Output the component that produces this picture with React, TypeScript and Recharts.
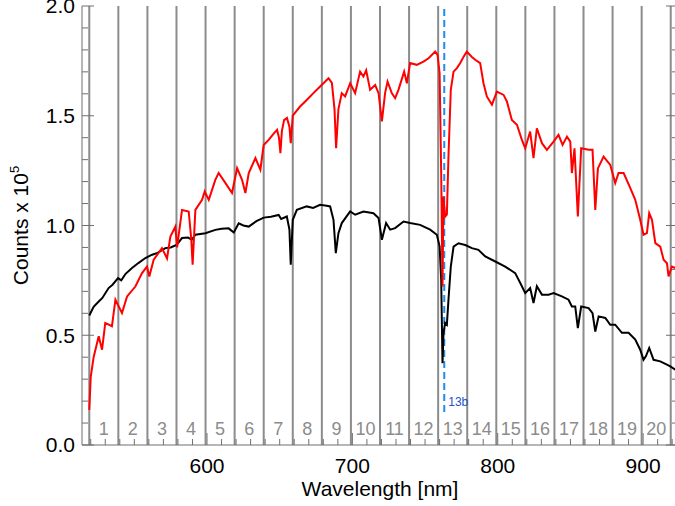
import React from "react";
import { ComposedChart, Line, XAxis, YAxis, ReferenceLine } from "recharts";

// Spectrum with 20 wavelength bands (520-920 nm), two exposures.

const FONT = '"Liberation Sans", Arial, Helvetica, sans-serif';
const AXIS = "#6f6f6f";
const BAND = "#8c8c8c";

const redNm = [
  519.0, 520.0, 522.0, 525.5, 527.8, 530.0, 534.6, 537.0, 541.5, 545.0, 550.7, 555.3, 558.7, 560.3,
  563.3, 569.0, 572.5, 574.8, 578.2, 579.4, 582.8, 587.4, 589.2, 590.1, 592.0, 596.6, 598.4, 601.2,
  605.7, 608.0, 612.6, 617.2, 620.7, 624.1, 626.4, 628.7, 633.3, 636.7, 639.0, 642.4, 646.0, 648.2,
  649.5, 650.5, 651.5, 653.0, 655.0, 656.7, 657.6, 659.0, 664.0, 668.6, 673.2, 677.8, 683.6, 685.9,
  687.7, 688.8, 690.4, 692.7, 695.0, 698.5, 701.9, 705.3, 707.6, 709.5, 712.2, 715.7, 718.0, 720.3,
  722.5, 724.2, 727.1, 729.4, 731.7, 735.6, 737.5, 739.7, 744.3, 748.9, 752.4, 757.0, 758.6, 760.0,
  761.1, 762.0, 762.7, 763.8, 765.0, 766.1, 767.7, 769.6, 771.9, 774.2, 776.4, 778.7, 782.2, 784.5,
  787.9, 790.2, 792.5, 796.0, 799.4, 804.0, 806.3, 809.7, 813.2, 816.6, 818.9, 822.3, 824.6, 826.9,
  830.4, 833.8, 838.4, 841.8, 844.6, 847.6, 849.9, 851.0, 852.8, 855.1, 857.4, 862.5, 865.2, 867.1,
  868.9, 872.8, 877.4, 880.8, 883.1, 886.6, 891.2, 894.6, 898.0, 900.3, 902.6, 904.2, 906.1, 908.4,
  911.8, 914.1, 916.4, 917.5, 919.8, 922.1, 923.5,
];
const redCounts = [
  0.16, 0.31, 0.40, 0.495, 0.434, 0.556, 0.541, 0.662, 0.601, 0.677, 0.722, 0.783, 0.813, 0.768,
  0.844, 0.897, 0.85, 0.95, 0.995, 0.9, 1.071, 1.064, 0.935, 0.821, 1.071, 1.117, 1.155, 1.117,
  1.208, 1.239, 1.194, 1.148, 1.261, 1.208, 1.148, 1.239, 1.307, 1.254, 1.367, 1.39, 1.42, 1.436,
  1.40, 1.33, 1.43, 1.48, 1.49, 1.45, 1.375, 1.50, 1.542, 1.572, 1.603, 1.633, 1.671, 1.65,
  1.53, 1.352, 1.53, 1.603, 1.588, 1.648, 1.603, 1.701, 1.679, 1.707, 1.618, 1.64, 1.603, 1.474,
  1.603, 1.656, 1.603, 1.58, 1.618, 1.701, 1.648, 1.74, 1.732, 1.747, 1.762, 1.792, 1.777, 1.694,
  1.239, 0.722, 1.132, 1.041, 1.05, 1.314, 1.618, 1.701, 1.717, 1.74, 1.768, 1.792, 1.768, 1.755,
  1.74, 1.648, 1.588, 1.55, 1.61, 1.595, 1.565, 1.481, 1.459, 1.39, 1.352, 1.428, 1.307, 1.443,
  1.375, 1.345, 1.382, 1.413, 1.367, 1.405, 1.382, 1.239, 1.352, 1.041, 1.352, 1.345, 1.345, 1.071,
  1.26, 1.314, 1.276, 1.193, 1.239, 1.239, 1.17, 1.117, 1.026, 0.958, 0.965, 1.056, 1.026, 0.92,
  0.904, 0.844, 0.828, 0.768, 0.813, 0.806, 0.81,
];

const blackNm = [
  519.0, 522.0, 525.5, 528.0, 532.3, 535.0, 538.8, 541.0, 544.0, 548.4, 553.0, 557.6, 562.2, 566.0,
  571.3, 575.0, 579.0, 582.8, 587.0, 589.5, 592.0, 598.9, 605.7, 610.0, 614.9, 618.4, 621.8, 625.0,
  628.7, 634.0, 639.0, 644.0, 649.3, 651.0, 654.9, 656.7, 657.6, 659.0, 661.8, 668.6, 673.0, 677.8,
  682.3, 684.7, 687.0, 688.6, 690.4, 692.7, 698.5, 701.9, 707.6, 714.5, 718.0, 720.3, 723.2, 726.0,
  729.4, 735.2, 739.7, 746.6, 753.5, 758.1, 760.0, 761.1, 762.0, 762.7, 763.8, 765.0, 766.1, 767.7,
  769.6, 773.0, 777.6, 782.2, 786.7, 791.4, 798.3, 805.1, 812.0, 815.5, 818.9, 822.3, 824.6, 826.9,
  830.4, 835.0, 838.4, 844.1, 848.7, 851.0, 853.3, 855.1, 857.4, 862.5, 865.2, 867.1, 869.4, 874.0,
  877.4, 880.8, 885.4, 890.0, 894.6, 898.0, 900.3, 901.9, 904.2, 907.2, 911.8, 916.4, 918.7, 922.1,
  923.5,
];
const blackCounts = [
  0.59, 0.63, 0.654, 0.67, 0.715, 0.73, 0.76, 0.75, 0.78, 0.806, 0.83, 0.852, 0.867, 0.875,
  0.897, 0.9, 0.912, 0.943, 0.945, 0.935, 0.958, 0.965, 0.98, 0.985, 0.987, 0.968, 1.01, 1.0,
  0.995, 1.02, 1.036, 1.04, 1.048, 1.03, 1.041, 0.981, 0.821, 1.026, 1.071, 1.087, 1.08, 1.094,
  1.09, 1.087, 1.026, 0.874, 0.965, 1.011, 1.064, 1.049, 1.064, 1.056, 1.034, 0.935, 1.011, 0.981,
  0.988, 1.018, 1.011, 1.003, 0.981, 0.958, 0.905, 0.754, 0.373, 0.51, 0.556, 0.548, 0.662, 0.813,
  0.904, 0.919, 0.911, 0.897, 0.889, 0.859, 0.836, 0.813, 0.783, 0.738, 0.692, 0.715, 0.647, 0.723,
  0.685, 0.685, 0.692, 0.677, 0.662, 0.631, 0.631, 0.533, 0.631, 0.624, 0.601, 0.517, 0.586, 0.579,
  0.548, 0.548, 0.511, 0.511, 0.48, 0.434, 0.388, 0.404, 0.442, 0.388, 0.381, 0.366, 0.358, 0.343,
  0.34,
];

const bandEdges = [
  519, 539, 559, 579, 599, 619, 639, 659, 679, 699, 719, 739, 759, 779, 799, 819, 839, 859, 879, 899, 919,
];
const bandCenters = [
  529, 549, 569, 589, 609, 629, 649, 669, 689, 709, 729, 749, 769, 789, 809, 829, 849, 869, 889, 909,
];
const bandLabels = [
  "1", "2", "3", "4", "5", "6", "7", "8", "9", "10", "11", "12", "13", "14", "15", "16", "17", "18", "19", "20",
];
const marker13b = 763.2;

const xTicks = [
  520, 530, 540, 550, 560, 570, 580, 590, 600, 610, 620, 630, 640, 650, 660, 670, 680, 690, 700, 710, 720,
  730, 740, 750, 760, 770, 780, 790, 800, 810, 820, 830, 840, 850, 860, 870, 880, 890, 900, 910, 920,
];
const yTicks = [
  0, 0.1, 0.2, 0.3, 0.4, 0.5, 0.6, 0.7, 0.8, 0.9, 1.0, 1.1, 1.2, 1.3, 1.4, 1.5, 1.6, 1.7, 1.8, 1.9, 2.0,
];

const redData = redNm.map((nm, i) => ({ nm, v: redCounts[i] }));
const blackData = blackNm.map((nm, i) => ({ nm, v: blackCounts[i] }));

const isMajorX = (v: number) => v % 100 === 0;
const isMajorY = (v: number) => Math.abs(v * 2 - Math.round(v * 2)) < 1e-6;

function BottomTick(props: any) {
  const { x, y, payload } = props;
  const v = payload.value;
  const major = isMajorX(v);
  return (
    <g>
      <line x1={x} x2={x} y1={y} y2={y - (major ? 12 : 6)} stroke={AXIS} strokeWidth={1} />
      {major && (
        <text x={x} y={y + 28} textAnchor="middle" fontSize={21} fontFamily={FONT} fill="#000">
          {v}
        </text>
      )}
    </g>
  );
}

function TopTick(props: any) {
  const { x, y, payload } = props;
  const major = isMajorX(payload.value);
  return <line x1={x} x2={x} y1={y} y2={y + (major ? 12 : 6)} stroke={AXIS} strokeWidth={1} />;
}

function LeftTick(props: any) {
  const { x, y, payload } = props;
  const v = payload.value;
  const major = isMajorY(v);
  return (
    <g>
      <line x1={x} x2={x + (major ? 12 : 6)} y1={y} y2={y} stroke={AXIS} strokeWidth={1} />
      {major && (
        <text x={x - 7} y={y} dy="0.355em" textAnchor="end" fontSize={21} fontFamily={FONT} fill="#000">
          {v.toFixed(1)}
        </text>
      )}
    </g>
  );
}

function RightTick(props: any) {
  const { x, y, payload } = props;
  const major = isMajorY(payload.value);
  return <line x1={x} x2={x - (major ? 12 : 6)} y1={y} y2={y} stroke={AXIS} strokeWidth={1} />;
}

function CountsLabel(props: any) {
  const { viewBox } = props;
  const cy = viewBox.y + viewBox.height / 2;
  return (
    <text
      transform={`translate(28,${cy}) rotate(-90)`}
      textAnchor="middle"
      fontSize={21}
      fontFamily={FONT}
      fill="#000"
    >
      Counts x 10<tspan dy={-9} fontSize={13}>5</tspan>
    </text>
  );
}

function MarkerLabel(props: any) {
  const { viewBox } = props;
  return (
    <text
      x={viewBox.x + 4}
      y={viewBox.y + viewBox.height - 6}
      fontSize={12}
      fontFamily={FONT}
      fill="#2450c8"
    >
      13b
    </text>
  );
}

export default function App() {
  return (
    <div style={{ position: "absolute", left: 0, top: 0, width: 675, height: 506, overflow: "hidden", background: "#fff" }}>
      <ComposedChart width={680} height={506} margin={{ top: 6, right: 0, bottom: 0, left: 0 }} style={{ fontFamily: FONT }}>
        <XAxis
          dataKey="nm"
          type="number"
          domain={[514, 924]}
          allowDataOverflow
          ticks={xTicks}
          interval={0}
          tickSize={0}
          tickMargin={0}
          tickLine={false}
          tick={<BottomTick />}
          height={61}
          stroke={AXIS}
          label={{ value: "Wavelength [nm]", position: "insideBottom", offset: 10, fontSize: 21, fill: "#000", fontFamily: FONT }}
        />
        <XAxis
          xAxisId="top"
          orientation="top"
          dataKey="nm"
          type="number"
          domain={[514, 924]}
          allowDataOverflow
          ticks={xTicks}
          interval={0}
          tickSize={0}
          tickMargin={0}
          tickLine={false}
          tick={<TopTick />}
          height={0}
          stroke={AXIS}
        />
        <YAxis
          type="number"
          domain={[0, 2]}
          allowDataOverflow
          ticks={yTicks}
          interval={0}
          tickSize={0}
          tickMargin={0}
          tickLine={false}
          tick={<LeftTick />}
          width={82}
          stroke={AXIS}
          label={<CountsLabel />}
        />
        <YAxis
          yAxisId="right"
          orientation="right"
          type="number"
          domain={[0, 2]}
          allowDataOverflow
          ticks={yTicks}
          interval={0}
          tickSize={0}
          tickMargin={0}
          tickLine={false}
          tick={<RightTick />}
          width={2}
          stroke={AXIS}
        />
        {bandEdges.map((b) => (
          <ReferenceLine key={`e${b}`} x={b} stroke={BAND} strokeWidth={2} />
        ))}
        {bandCenters.map((c, i) => (
          <ReferenceLine
            key={`c${c}`}
            x={c}
            stroke="none"
            label={{ value: bandLabels[i], position: "insideBottom", offset: 10, fontSize: 18, fill: "#8c8c8c", fontFamily: FONT }}
          />
        ))}
        <ReferenceLine
          segment={[
            { x: marker13b, y: 0.15 },
            { x: marker13b, y: 2 },
          ]}
          stroke="#1e8cf0"
          strokeWidth={2}
          strokeDasharray="7 4"
          label={<MarkerLabel />}
        />
        <Line data={blackData} dataKey="v" type="linear" stroke="#000" strokeWidth={2} dot={false} isAnimationActive={false} />
        <Line data={redData} dataKey="v" type="linear" stroke="#ff0000" strokeWidth={2} dot={false} isAnimationActive={false} />
      </ComposedChart>
    </div>
  );
}
